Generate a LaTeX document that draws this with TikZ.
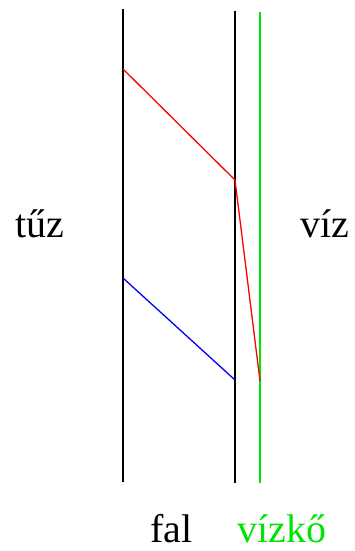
\documentclass[tikz,border=0pt]{standalone}
\usepackage{fontspec}
\setmainfont{Liberation Serif}
\begin{document}
\begin{tikzpicture}[x=1pt,y=-1pt,
  wall/.style={line width=2pt,black},
  scale line/.style={line width=2pt,green!90!black},
  hot/.style={line width=1.3pt,red},
  cold/.style={line width=1.3pt,blue},
  lbl/.style={inner sep=0pt,anchor=base west,font=\fontsize{40}{48}\selectfont}]
\useasboundingbox (0,0) rectangle (355,551);
\coordinate (w1t) at (123,9);
\coordinate (w1b) at (123,482);
\coordinate (w2t) at (235,11);
\coordinate (w2b) at (235,483);
\coordinate (g1t) at (260,12);
\coordinate (g1b) at (260,483);
\coordinate (r1) at (123,69);
\coordinate (r2) at (235,180);
\coordinate (r3) at (260,381);
\coordinate (b1) at (123,278);
\coordinate (b2) at (235,380);
\draw[wall] (w1t) -- (w1b);
\draw[wall] (w2t) -- (w2b);
\draw[scale line] (g1t) -- (g1b);
\draw[hot] (r1) -- (r2) -- (r3);
\draw[cold] (b1) -- (b2);
\node[lbl] (tuz) at (15,237) {tűz};
\node[lbl] (viz) at (300,237) {víz};
\node[lbl] (fal) at (150,542) {fal};
\node[lbl,text=green!90!black] (vizko) at (237,542) {vízkő};
\end{tikzpicture}
\end{document}
